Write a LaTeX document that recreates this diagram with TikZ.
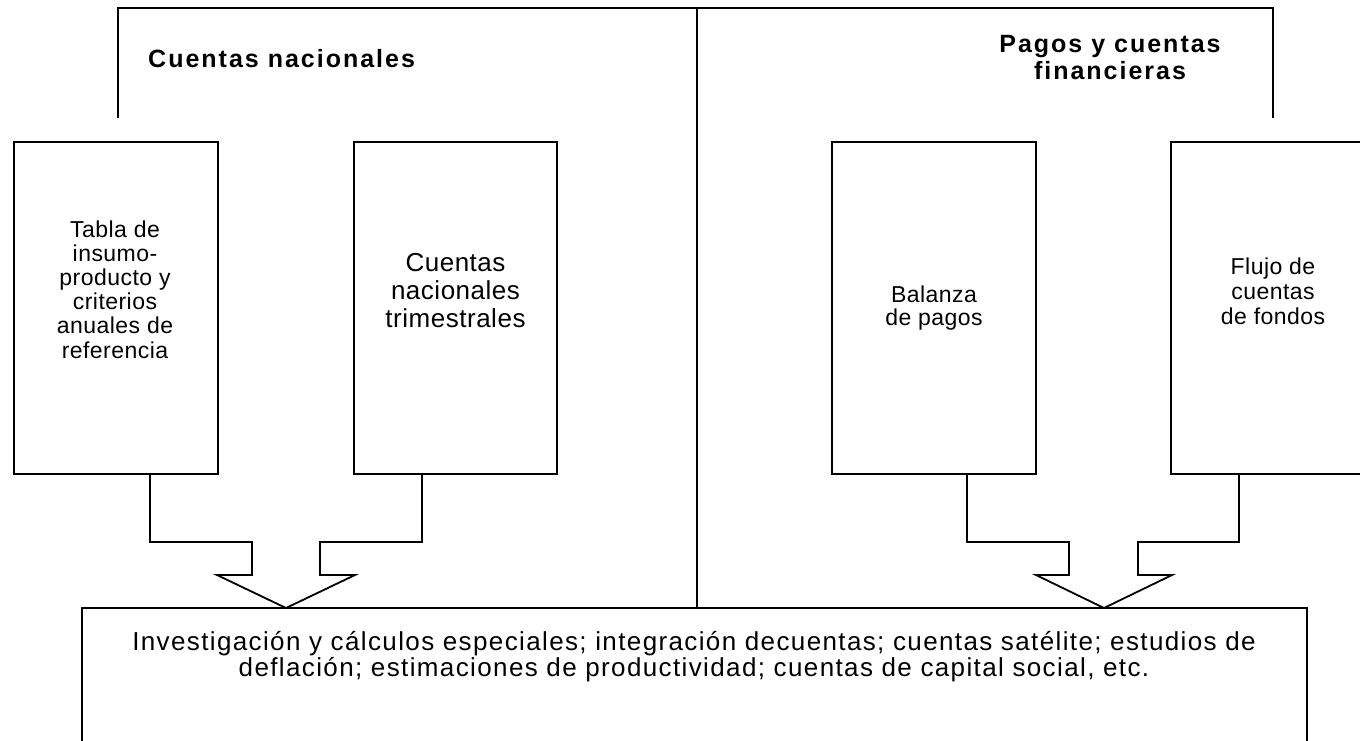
\documentclass[tikz,border=0pt]{standalone}
\usepackage{fontspec}
\setmainfont{Liberation Sans}
\newfontfamily\bodyfont{Liberation Sans}[LetterSpace=2]
\newfontfamily\notefont{Liberation Sans}[LetterSpace=5.3]
\newfontfamily\titlefont{Liberation Sans}[LetterSpace=8]
\usetikzlibrary{positioning,calc}

\begin{document}
\begin{tikzpicture}[x=1pt,y=-1pt,
  frameline/.style={line width=1.8pt,line join=miter},
  panel/.style={draw,line width=1.8pt,minimum width=204pt,minimum height=332pt,inner sep=0pt},
  boxtext/.style={align=center,inner sep=0pt},
  blockarrow/.style={draw,line width=1.8pt,line join=miter}
]
\useasboundingbox (0,0) rectangle (1360,740);
\fill[white] (0,0) rectangle (1360,740);

% the top frame and the divider
\node[draw,line width=1.8pt,minimum width=1225pt,minimum height=164pt,inner sep=0pt] (bot) at (694.5,690) {};
\draw[frameline] (118,118) |- (1273,8) -- (1273,118);
\draw[frameline] (697,8) -- (697,0 |- bot.north);

% the titles
\node[anchor=base west,inner sep=0pt,font=\titlefont\bfseries\fontsize{25}{27}\selectfont] (cn) at (148,67) {Cuentas nacionales};
\node[boxtext,font=\titlefont\bfseries\fontsize{25}{27}\selectfont] (pagos) at (1110,57.6) {Pagos y cuentas\\financieras};

% the four boxes
\node[panel] (b1) at (116,308) {};
\node[panel,minimum width=203pt] (b2) at (455.5,308) {};
\node[panel] (b3) at (934,308) {};
\node[panel] (b4) at (1273,308) {};

% the texts of the boxes
\node[boxtext,font=\bodyfont\fontsize{23}{24.2}\selectfont] (tabla) at (115,289.3) {Tabla de\\insumo-\\producto y\\criterios\\anuales de\\referencia};
\node[boxtext,font=\bodyfont\fontsize{26}{28}\selectfont] (trim) at (455.5,290.7) {Cuentas\\nacionales\\trimestrales};
\node[boxtext,font=\bodyfont\fontsize{23}{23}\selectfont] (balanza) at (934,307.7) {Balanza\\de pagos};
\node[boxtext,font=\bodyfont\fontsize{23}{25}\selectfont] (flujo) at (1273,290.8) {Flujo de\\cuentas\\de fondos};
\node[boxtext,font=\notefont\fontsize{26}{22}\selectfont] (invest) at (694,656.5) {Investigación y cálculos especiales; integración decuentas; cuentas satélite; estudios de\\deflación; estimaciones de productividad; cuentas de capital social, etc.};

% the block arrows
\draw[blockarrow] ([xshift=34pt]b1.south) |- (252,542) -- (252,575) -- (217,575) -- (286,608)
  -- (355,575) -- (320,575) -- (320,542) -| ([xshift=-33.5pt]b2.south);
\draw[blockarrow] ([xshift=33pt]b3.south) |- (1069,542) -- (1069,575) -- (1036,575) -- (1104,608)
  -- (1172,575) -- (1138,575) -- (1138,542) -| ([xshift=-34pt]b4.south);
\end{tikzpicture}
\end{document}
